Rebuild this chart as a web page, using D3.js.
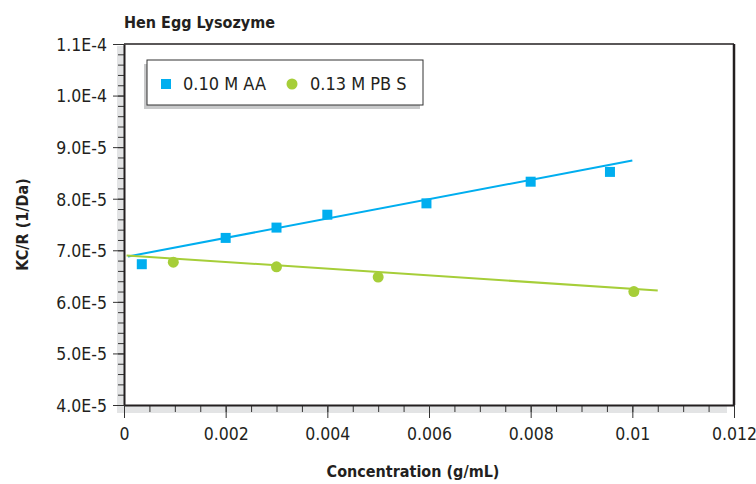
<!DOCTYPE html>
<html>
<head>
<meta charset="utf-8">
<script src="https://cdn.jsdelivr.net/npm/d3@7"></script>
<style>
  body { margin: 0; background: #fff; }
  svg text { font-family: "DejaVu Sans Condensed", "Liberation Sans Narrow", sans-serif; font-stretch: condensed; fill: #231f20; }
</style>
</head>
<body>
<div id="plot"></div>
<script>
// chart data
const aaX = [0.00035, 0.002, 0.003, 0.004, 0.00595, 0.008, 0.00956];
const aaY = [6.73e-5, 7.24e-5, 7.44e-5, 7.69e-5, 7.91e-5, 8.33e-5, 8.52e-5];
const pbsX = [0.00097, 0.003, 0.005, 0.01003];
const pbsY = [6.77e-5, 6.68e-5, 6.48e-5, 6.20e-5];
// fitted lines (start / end)
const aaFitX = [0.00008, 0.0100];
const aaFitY = [6.88e-5, 8.74e-5];
const pbsFitX = [0.00005, 0.0105];
const pbsFitY = [6.90e-5, 6.22e-5];

const yTicks = [4e-5, 5e-5, 6e-5, 7e-5, 8e-5, 9e-5, 1e-4, 1.1e-4];
const yTickLabels = ["4.0E-5", "5.0E-5", "6.0E-5", "7.0E-5", "8.0E-5", "9.0E-5", "1.0E-4", "1.1E-4"];
const xTicks = [0, 0.002, 0.004, 0.006, 0.008, 0.01, 0.012];
const xTickLabels = ["0", "0.002", "0.004", "0.006", "0.008", "0.01", "0.012"];
const seriesNames = ["0.10 M AA", "0.13 M PB S"];

const w = 756, h = 484;
const margin = { top: 44, right: 22, bottom: 79, left: 124 };
const blue = "#00aeef", green = "#a6ce39";

const svg = d3.select("div#plot").append("svg")
    .attr("width", w)
    .attr("height", h);

const x = d3.scaleLinear().domain([0, 0.012]).range([margin.left, w - margin.right]);
const y = d3.scaleLinear().domain([4e-5, 1.1e-4]).range([h - margin.bottom, margin.top]);

// gray strips behind the axes
svg.append("rect")
    .attr("x", margin.left - 7).attr("y", margin.top + 2)
    .attr("width", 7).attr("height", y(4e-5) - margin.top + 6)
    .attr("fill", "#e3e4e5");
svg.append("rect")
    .attr("x", margin.left - 7).attr("y", y(4e-5))
    .attr("width", x(0.012) - margin.left).attr("height", 8)
    .attr("fill", "#e3e4e5");

// minor ticks
const yMinor = d3.range(40, 111, 2).map(d => d * 1e-6);
const xMinor = d3.range(0, 25).map(d => d * 0.0005);

svg.append("g")
    .attr("transform", `translate(${margin.left},0)`)
    .call(d3.axisLeft(y).tickValues(yMinor).tickSize(6).tickSizeOuter(0).tickFormat(""))
    .call(g => g.select(".domain").remove())
    .selectAll("line").attr("stroke", "#333");
svg.append("g")
    .attr("transform", `translate(0,${y(4e-5)})`)
    .call(d3.axisBottom(x).tickValues(xMinor).tickSize(7).tickSizeOuter(0).tickFormat(""))
    .call(g => g.select(".domain").remove())
    .selectAll("line").attr("stroke", "#333");

// major axes
const yAxis = svg.append("g")
    .attr("transform", `translate(${margin.left},0)`)
    .call(d3.axisLeft(y).tickValues(yTicks).tickSize(11).tickSizeOuter(0)
      .tickFormat((d, i) => yTickLabels[i]));
yAxis.select(".domain").attr("stroke", "#231f20").attr("stroke-width", 2);
yAxis.selectAll("line").attr("stroke", "#333");
yAxis.selectAll("text").attr("font-size", 17.5).attr("x", -17).attr("dy", "0.36em");

const xAxis = svg.append("g")
    .attr("transform", `translate(0,${y(4e-5)})`)
    .call(d3.axisBottom(x).tickValues(xTicks).tickSize(13).tickSizeOuter(0)
      .tickFormat((d, i) => xTickLabels[i]));
xAxis.select(".domain").attr("stroke", "#231f20").attr("stroke-width", 2);
xAxis.selectAll("line").attr("stroke", "#333");
xAxis.selectAll("text").attr("font-size", 17.5).attr("y", 23);

// frame top and right
svg.append("line")
    .attr("x1", margin.left).attr("x2", x(0.012))
    .attr("y1", margin.top).attr("y2", margin.top)
    .attr("stroke", "#231f20").attr("stroke-width", 1.5);
svg.append("line")
    .attr("x1", x(0.012)).attr("x2", x(0.012))
    .attr("y1", margin.top).attr("y2", y(4e-5))
    .attr("stroke", "#231f20").attr("stroke-width", 2.5);

// fit lines
const line = d3.line().x(d => x(d[0])).y(d => y(d[1]));
svg.append("path")
    .datum(aaFitX.map((d, i) => [d, aaFitY[i]]))
    .attr("d", line).attr("fill", "none")
    .attr("stroke", blue).attr("stroke-width", 2);
svg.append("path")
    .datum(pbsFitX.map((d, i) => [d, pbsFitY[i]]))
    .attr("d", line).attr("fill", "none")
    .attr("stroke", green).attr("stroke-width", 2);

// points
svg.selectAll(".sq")
    .data(aaX.map((d, i) => [d, aaY[i]]))
    .enter().append("rect")
    .attr("class", "sq")
    .attr("x", d => x(d[0]) - 5)
    .attr("y", d => y(d[1]) - 5)
    .attr("width", 10).attr("height", 10)
    .attr("fill", blue);
svg.selectAll(".dot")
    .data(pbsX.map((d, i) => [d, pbsY[i]]))
    .enter().append("circle")
    .attr("class", "dot")
    .attr("cx", d => x(d[0]))
    .attr("cy", d => y(d[1]))
    .attr("r", 5.5)
    .attr("fill", green);

// legend
const lg = svg.append("g").attr("transform", "translate(147,60)");
lg.append("rect").attr("x", -3).attr("y", 4).attr("width", 276).attr("height", 45).attr("fill", "#c8c9ca");
lg.append("rect").attr("width", 276).attr("height", 45).attr("fill", "#fff")
    .attr("stroke", "#333").attr("stroke-width", 1);
lg.append("rect").attr("x", 14).attr("y", 19).attr("width", 10).attr("height", 10).attr("fill", blue);
lg.append("text").attr("x", 36).attr("y", 30).attr("font-size", 18).text(seriesNames[0]);
lg.append("circle").attr("cx", 145).attr("cy", 24).attr("r", 5.5).attr("fill", green);
lg.append("text").attr("x", 163).attr("y", 30).attr("font-size", 18).text(seriesNames[1]);

// titles
svg.append("text")
    .attr("x", 124).attr("y", 28)
    .attr("font-size", 16).attr("font-weight", "bold")
    .text("Hen Egg Lysozyme");
svg.append("text")
    .attr("transform", `translate(28,${(margin.top + y(4e-5)) / 2}) rotate(-90)`)
    .attr("text-anchor", "middle")
    .attr("font-size", 16).attr("font-weight", "bold")
    .text("KC/R (1/Da)");
svg.append("text")
    .attr("x", 413).attr("y", 477)
    .attr("text-anchor", "middle")
    .attr("font-size", 16).attr("font-weight", "bold")
    .text("Concentration (g/mL)");
</script>
</body>
</html>
